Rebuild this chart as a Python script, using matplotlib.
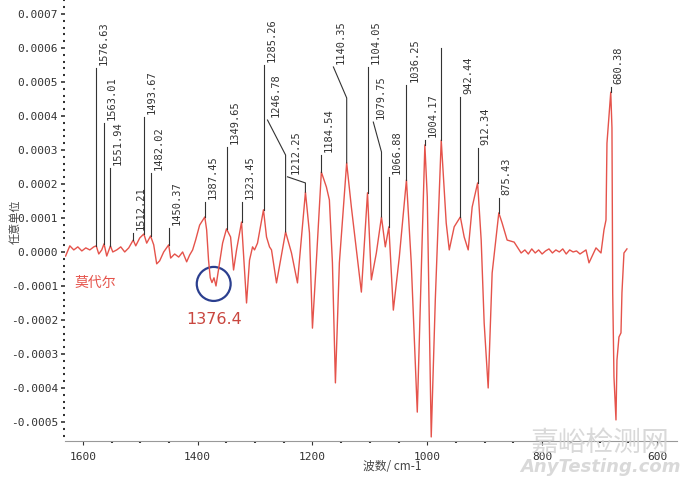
import matplotlib
matplotlib.use("Agg")
import matplotlib.pyplot as plt
from matplotlib.patches import Ellipse
from matplotlib.ticker import MultipleLocator
import numpy as np

# spectrum: wavenumber (cm-1) and intensity (x1e-4)
wavenumber = [1630, 1622.6, 1615.7, 1608.7, 1601.7, 1594.8, 1587.8, 1580.9, 1576.6, 1572.2,
              1567.0, 1563.0, 1558.3, 1551.9, 1547.8, 1540.9, 1533.9, 1527.0, 1520.0, 1512.2,
              1507.8, 1500.9, 1493.7, 1488.7, 1482.0, 1476.5, 1471.3, 1466.1, 1459.1, 1450.4,
              1447.0, 1440.0, 1433.0, 1426.1, 1419.1, 1413.9, 1408.7, 1403.5, 1396.5, 1387.5,
              1384.3, 1381.0, 1378.0, 1375.0, 1371.5, 1368.0, 1356.5, 1349.7, 1342.6, 1337.4,
              1332.2, 1323.5, 1314.8, 1309.6, 1304.3, 1300.9, 1295.7, 1285.3, 1280.0, 1274.8,
              1271.3, 1262.6, 1246.8, 1236.5, 1226.1, 1212.2, 1205.2, 1200.0, 1193.1, 1184.5,
              1175.7, 1170.5, 1165.2, 1160.0, 1153.1, 1140.4, 1132.2, 1123.5, 1114.8, 1104.1,
              1097.4, 1088.7, 1079.8, 1073.1, 1066.9, 1059.1, 1048.7, 1036.3, 1027.9, 1017.4,
              1004.2, 1000.0, 993.1, 986.0, 975.7, 967.0, 961.7, 953.1, 942.4, 935.7,
              928.7, 921.8, 912.3, 906.1, 900.9, 893.9, 887.0, 875.4, 869.6, 860.9,
              848.7, 836.5, 830, 824, 818, 812, 806, 800, 794, 788,
              782, 776, 770, 764, 758, 752, 746, 740, 734, 723.5,
              718.3, 706.1, 697.4, 692.2, 688.7, 687.0, 680.4, 678.3, 677.0, 674.8,
              671.3, 669.6, 666.1, 662.6, 660.9, 657.4, 652.2]
intensity = [-0.12, 0.18, 0.06, 0.15, 0.03, 0.12, 0.06, 0.15, 0.18, -0.06,
             0.06, 0.24, -0.12, 0.18, 0.0, 0.06, 0.15, 0.0, 0.12, 0.35,
             0.18, 0.41, 0.53, 0.26, 0.47, 0.21, -0.35, -0.26, 0.0, 0.21,
             -0.18, -0.06, -0.15, 0.0, -0.29, -0.09, 0.06, 0.35, 0.79, 1.03,
             0.65, -0.24, -0.76, -0.9, -0.76, -1.0, 0.26, 0.68, 0.44, -0.53,
             0.06, 0.88, -1.5, -0.24, 0.15, 0.06, 0.26, 1.24, 0.44, 0.15,
             0.06, -0.91, 0.59, -0.03, -0.91, 1.76, 0.56, -2.24, -0.24, 2.35,
             1.91, 1.53, -0.32, -3.85, -0.32, 2.62, 1.32, 0.06, -1.18, 1.74,
             -0.82, -0.03, 1.03, 0.15, 0.74, -1.71, -0.15, 2.12, -0.32, -4.71,
             3.15, 1.62, -5.44, -1.4, 3.29, 0.85, 0.06, 0.74, 1.03, 0.44,
             0.06, 1.32, 2.03, 0.35, -2.09, -4.0, -0.62, 1.15, 0.85, 0.35,
             0.29, -0.03, 0.06, -0.06, 0.09, -0.03, 0.06, -0.06, 0.03, 0.09,
             -0.03, 0.06, 0.0, 0.09, -0.06, 0.06, 0.0, 0.03, -0.06, 0.06,
             -0.32, 0.12, -0.03, 0.65, 0.94, 3.2, 4.7, 3.65, -1.2, -3.68,
             -4.94, -3.18, -2.5, -2.38, -1.2, -0.03, 0.09]

# peak labels: text, peak position, peak height, top of leader line (x1e-4)
peak_labels = ["1576.63", "1563.01", "1551.94", "1512.21", "1493.67", "1482.02", "1450.37",
               "1387.45", "1349.65", "1323.45", "1285.26", "1246.78", "1212.25", "1184.54",
               "1140.35", "1104.05", "1079.75", "1066.88", "1036.25", "1004.17", "",
               "942.44", "912.34", "875.43", "680.38"]
peak_pos = [1576.63, 1563.01, 1551.94, 1512.21, 1493.67, 1482.02, 1450.37,
            1387.45, 1349.65, 1323.45, 1285.26, 1246.78, 1212.25, 1184.54,
            1140.35, 1104.05, 1079.75, 1066.88, 1036.25, 1004.17, 975.7,
            942.44, 912.34, 875.43, 680.38]
peak_val = [0.18, 0.24, 0.18, 0.35, 0.53, 0.47, 0.21, 1.03, 0.68, 0.88, 1.24, 0.59, 1.76,
            2.35, 2.62, 1.74, 1.03, 0.74, 2.12, 3.15, 3.29, 1.03, 2.03, 1.15, 4.7]
line_top = [5.41, 3.79, 2.47, 0.56, 3.97, 2.32, 0.71, 1.47, 3.09, 1.47, 5.5, 2.85, 2.03,
            2.85, 4.53, 5.44, 2.94, 2.21, 4.91, 3.29, 6.0, 4.56, 3.06, 1.59, 4.85]
# kinked leaders: index -> (x, y) of the upper end of the slanted part
kinks = {11: (1278.3, 3.88), 12: (1243.5, 2.21), 14: (1163.5, 5.44), 16: (1094.0, 3.82)}

SCALE = 1e-4
RED = "#e5534b"
DARK = "#333333"

fig = plt.figure(figsize=(6.8, 4.84), dpi=100)
ax = fig.add_axes([0.0956, 0.0895, 0.9, 0.9105])

ax.plot(wavenumber, np.array(intensity) * SCALE, color=RED, linewidth=1.0)

for i, (lab, x, y0, y1) in enumerate(zip(peak_labels, peak_pos, peak_val, line_top)):
    xs = [x, x]
    ys = [y0 * SCALE, y1 * SCALE]
    tx, ty = x, y1
    if i in kinks:
        kx, ky = kinks[i]
        xs.append(kx)
        ys.append(ky * SCALE)
        tx, ty = kx, ky
    ax.plot(xs, ys, color=DARK, linewidth=0.8)
    if lab:
        ax.annotate(lab, (tx, ty * SCALE), xytext=(2, 2), textcoords="offset points",
                    rotation=90, rotation_mode="anchor", ha="left", va="top",
                    fontsize=7.5, family="DejaVu Sans Mono", color=DARK)

ax.set_xlim(1631, 565)
ax.set_ylim(-5.55 * SCALE, 7.41 * SCALE)

ax.xaxis.set_major_locator(MultipleLocator(200))
ax.xaxis.set_minor_locator(MultipleLocator(50))
ax.yaxis.set_major_locator(MultipleLocator(1e-4))
ax.yaxis.set_minor_locator(MultipleLocator(2e-5))
ax.yaxis.set_major_formatter(matplotlib.ticker.FuncFormatter(lambda v, p: f"{v:.4f}"))

for s in ["top", "right", "left"]:
    ax.spines[s].set_visible(False)
ax.spines["bottom"].set_color("#999999")
ax.spines["bottom"].set_linewidth(0.8)

ax.tick_params(axis="y", which="major", length=3, width=1.2, color=DARK, pad=2,
               labelsize=8, labelcolor=DARK)
ax.tick_params(axis="y", which="minor", length=1.5, width=1.5, color=DARK)
ax.tick_params(axis="x", which="major", length=3, width=0.8, color=DARK, pad=5,
               labelsize=8, labelcolor=DARK)
ax.tick_params(axis="x", which="minor", length=1.5, width=1.5, color=DARK)
for t in ax.get_xticklabels() + ax.get_yticklabels():
    t.set_family("DejaVu Sans Mono")

fig.text(15 / 680, 1 - 222 / 484, "任意单位", rotation=90, ha="center", va="center",
         fontsize=8, color="#444444", family=["Noto Sans CJK SC", "DejaVu Sans"])
fig.text(392 / 680, 1 - 466 / 484, "波数/ cm-1", ha="center", va="center",
         fontsize=8.5, color="#444444", family=["Noto Sans CJK SC", "DejaVu Sans"])

ax.text(1578, -0.9 * SCALE, "莫代尔", ha="center", va="center", fontsize=10, color=RED,
        family=["Noto Sans CJK SC", "DejaVu Sans"])
ax.add_patch(Ellipse((1372, -0.94 * SCALE), 59, 1.0 * SCALE, fill=False,
                     edgecolor="#2b3f8f", linewidth=1.6))
ax.text(1372, -2.0 * SCALE, "1376.4", ha="center", va="center", fontsize=11.5,
        color="#c9463f")

fig.text(600 / 680, 1 - 443 / 484, "嘉峪检测网", ha="center", va="center", fontsize=20,
         color="#d0d0d0", alpha=0.8, family=["Noto Sans CJK SC", "DejaVu Sans"])
fig.text(600 / 680, 1 - 467 / 484, "AnyTesting.com", ha="center", va="center", fontsize=13,
         color="#d0d0d0", alpha=0.8, style="italic", weight="bold")

fig.savefig("out.png", dpi=100)
